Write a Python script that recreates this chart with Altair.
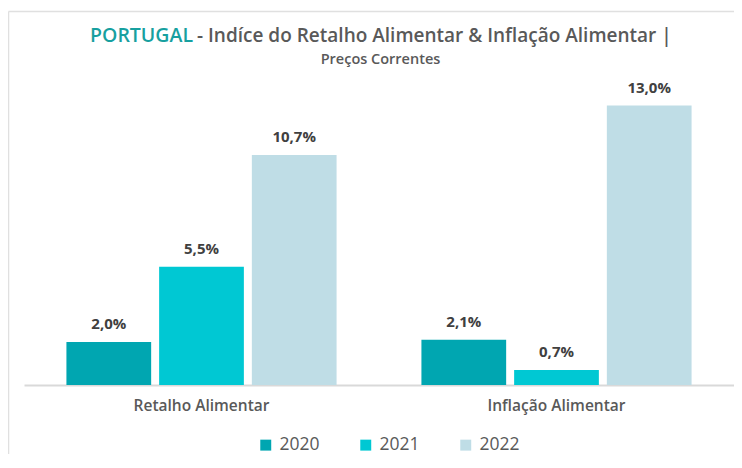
import altair as alt
import pandas as pd

categories = ["Retalho Alimentar", "Inflação Alimentar"]
years = ["2020", "2021", "2022"]
values_2020 = [2.0, 2.1]
values_2021 = [5.5, 0.7]
values_2022 = [10.7, 13.0]
colors = ["#00A6B1", "#00C8D3", "#BFDDE6"]

rows = []
for y, vals in zip(years, [values_2020, values_2021, values_2022]):
    for c, v in zip(categories, vals):
        rows.append({"cat": c, "year": y, "value": v,
                     "label": f"{v:.1f}".replace(".", ",") + "%"})
df = pd.DataFrame(rows)

FONT = "Open Sans"

base = alt.Chart(df).encode(
    x=alt.X("cat:N", sort=categories, title=None,
            scale=alt.Scale(paddingInner=0.239, paddingOuter=0.1195),
            axis=alt.Axis(labelAngle=0, labelFontSize=15.5, labelColor="#595959",
                          labelFont=FONT, labelFontWeight=600, labelPadding=13,
                          ticks=False, domainColor="#D9D9D9", domainWidth=2)),
    xOffset=alt.XOffset("year:N", sort=years,
                        scale=alt.Scale(paddingInner=0.086, paddingOuter=0)),
    y=alt.Y("value:Q", scale=alt.Scale(domain=[0, 14]), axis=None),
)

bars = base.mark_bar().encode(
    color=alt.Color("year:N", sort=years,
                    scale=alt.Scale(domain=years, range=colors),
                    legend=alt.Legend(title=None, orient="none", direction="horizontal",
                                      legendX=233, legendY=352,
                                      symbolType="square", symbolSize=120,
                                      symbolStrokeWidth=0,
                                      labelFontSize=17.5, labelColor="#595959",
                                      labelFont=FONT, columnPadding=37,
                                      labelOffset=5))
)

labels = base.mark_text(dy=-13, baseline="alphabetic", fontSize=15, fontWeight="bold",
                        color="#404040", font=FONT).encode(text="label:N")

deco = pd.DataFrame({"k": [0]})
title1 = alt.Chart(deco).mark_text(text="PORTUGAL", align="right", baseline="alphabetic",
                                   fontSize=19.5, fontWeight=600, color="#17A0A0",
                                   font=FONT).encode(x=alt.value(169), y=alt.value(-42))
title2 = alt.Chart(deco).mark_text(text="- Indíce do Retalho Alimentar & Inflação Alimentar |",
                                   align="left", baseline="alphabetic",
                                   fontSize=19, fontWeight=600, color="#595959",
                                   font=FONT).encode(x=alt.value(173), y=alt.value(-42))
subtitle = alt.Chart(deco).mark_text(text="Preços Correntes", align="center",
                                     baseline="alphabetic", fontSize=14.5, fontWeight=600,
                                     color="#595959", font=FONT).encode(
    x=alt.value(356.5), y=alt.value(-20))

frame_top = alt.Chart(deco).mark_rule(color="#E0E0E0", strokeWidth=1.5).encode(
    x=alt.value(-15.5), x2=alt.value(710), y=alt.value(-72.5))
frame_left = alt.Chart(deco).mark_rule(color="#E0E0E0", strokeWidth=1.5).encode(
    x=alt.value(-15.5), y=alt.value(-72.5), y2=alt.value(370))

chart = alt.layer(frame_top, frame_left, bars, labels, title1, title2, subtitle).properties(
    width=710, height=301,
    autosize=alt.AutoSizeParams(type="none"),
    padding={"left": 16, "top": 76, "right": 0, "bottom": 69},
    background="white",
).configure_view(stroke=None)

chart.save("out.html", embed_options={"renderer": "svg", "actions": False})
